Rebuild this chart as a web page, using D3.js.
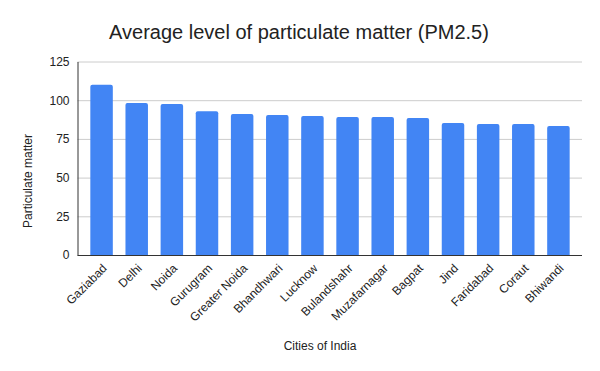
<!DOCTYPE html>
<html>
<head>
<meta charset="utf-8">
<script src="https://cdn.jsdelivr.net/npm/d3@7"></script>
<style>
  body { margin: 0; background: #fff; }
  text { font-family: "Liberation Sans", Arial, sans-serif; }
</style>
</head>
<body>
<svg id="chart" width="600" height="371"></svg>
<script>
var cities = ["Gaziabad", "Delhi", "Noida", "Gurugram", "Greater Noida", "Bhandhwari", "Lucknow",
    "Bulandshahr", "Muzafarnagar", "Bagpat", "Jind", "Faridabad", "Coraut", "Bhiwandi"];
var pm25 = [110, 98.2, 97.5, 92.8, 91.1, 90.4, 89.8, 89.1, 89.1, 88.5, 85.3, 84.6, 84.6, 83.3];
var yTicks = [0, 25, 50, 75, 100, 125];

var svg = d3.select("#chart");

var plotLeft = 77.5, plotRight = 582, plotTop = 61.5, plotBottom = 255;

var x = d3.scaleBand()
    .domain(cities)
    .range([84, 576])
    .paddingInner(0.36)
    .paddingOuter(0.18);

var y = d3.scaleLinear()
    .domain([0, 125])
    .range([plotBottom, plotTop]);

// gridlines
svg.append("g")
    .selectAll("line")
    .data(yTicks.filter(function(d) { return d > 0; }))
    .enter().append("line")
    .attr("x1", plotLeft)
    .attr("x2", plotRight)
    .attr("y1", function(d) { return y(d) + 0.5; })
    .attr("y2", function(d) { return y(d) + 0.5; })
    .attr("stroke", "#cccccc")
    .attr("stroke-width", 1);

// bars with slightly rounded tops
svg.append("g")
    .selectAll("path")
    .data(cities)
    .enter().append("path")
    .attr("fill", "#4285f4")
    .attr("d", function(d, i) {
        var x0 = x(d), w = x.bandwidth(), y0 = y(pm25[i]), y1 = y(0), r = 2;
        return "M" + x0 + "," + y1 +
            "V" + (y0 + r) +
            "Q" + x0 + "," + y0 + " " + (x0 + r) + "," + y0 +
            "H" + (x0 + w - r) +
            "Q" + (x0 + w) + "," + y0 + " " + (x0 + w) + "," + (y0 + r) +
            "V" + y1 + "Z";
    });

// y axis
var yAxis = d3.axisLeft(y).tickValues(yTicks).tickSize(0).tickPadding(8);
var gy = svg.append("g")
    .attr("transform", "translate(" + plotLeft + ",0)")
    .call(yAxis);
gy.select(".domain").attr("stroke", "#333333");
gy.selectAll("text").attr("font-size", 12).attr("fill", "#222222");

// x axis
var xAxis = d3.axisBottom(x).tickSize(0).tickPadding(0);
var gx = svg.append("g")
    .attr("transform", "translate(0," + plotBottom + ")")
    .call(xAxis);
gx.select(".domain").attr("d", "M" + plotLeft + ",0.5H" + plotRight).attr("stroke", "#333333");
gx.selectAll("text")
    .attr("font-size", 12)
    .attr("fill", "#222222")
    .attr("text-anchor", "end")
    .attr("dy", null)
    .attr("y", 0)
    .attr("transform", "translate(6,14) rotate(-45)");

// title
svg.append("text")
    .attr("x", 299)
    .attr("y", 39)
    .attr("text-anchor", "middle")
    .attr("font-size", 20)
    .attr("fill", "#222222")
    .text("Average level of particulate matter (PM2.5)");

// axis titles
svg.append("text")
    .attr("x", 320)
    .attr("y", 350)
    .attr("text-anchor", "middle")
    .attr("font-size", 12)
    .attr("fill", "#222222")
    .text("Cities of India");

svg.append("text")
    .attr("transform", "translate(32,181) rotate(-90)")
    .attr("text-anchor", "middle")
    .attr("font-size", 12)
    .attr("fill", "#222222")
    .text("Particulate matter");
</script>
</body>
</html>
